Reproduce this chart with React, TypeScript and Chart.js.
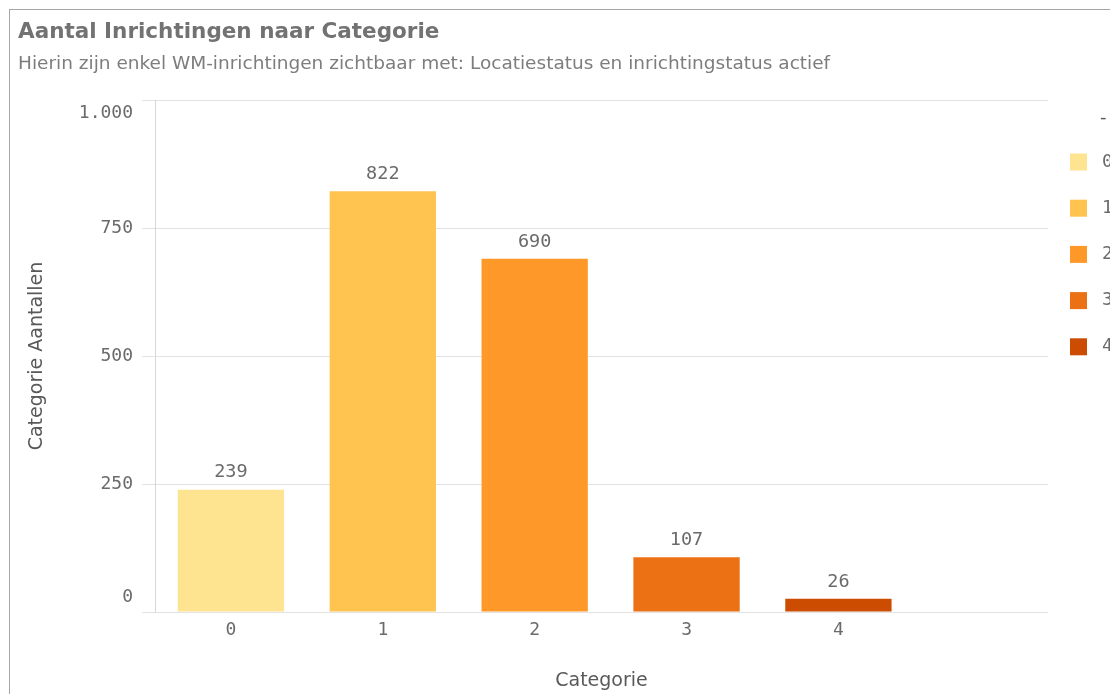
import React, { useEffect, useRef } from 'react';
import { Chart, registerables } from 'chart.js';

Chart.register(...registerables);

const categories = ['0', '1', '2', '3', '4'];
const counts = [239, 822, 690, 107, 26];
const barColors = ['#FEE391', '#FEC44F', '#FE9929', '#EC7014', '#CC4C02'];
const yTickValues = [0, 250, 500, 750, 1000];
const titleText = 'Aantal Inrichtingen naar Categorie';
const subtitleText = 'Hierin zijn enkel WM-inrichtingen zichtbaar met: Locatiestatus en inrichtingstatus actief';
const xTitleText = 'Categorie';
const yTitleText = 'Categorie Aantallen';
const legendTitleText = '-';

const MONO = '"DejaVu Sans Mono", "Liberation Mono", monospace';
const SANS = '"DejaVu Sans", "Noto Sans", sans-serif';

const fmt = (v: number) => String(v).replace(/\B(?=(\d{3})+(?!\d))/g, '.');

const clampYLabels = {
  id: 'clampYLabels',
  beforeDraw(chart: any) {
    const s = chart.scales.y;
    const items = s.getLabelItems(chart.chartArea);
    if (!items || !items.length) return;
    items[0].options.translation[1] -= 15;
    items[items.length - 1].options.translation[1] += 13;
  },
};

const valueLabels = {
  id: 'valueLabels',
  afterDatasetsDraw(chart: any) {
    const meta = chart.getDatasetMeta(0);
    const ctx = chart.ctx;
    ctx.save();
    ctx.font = `18.5px ${MONO}`;
    ctx.fillStyle = '#6a6a6a';
    ctx.textAlign = 'center';
    ctx.textBaseline = 'middle';
    meta.data.forEach((el: any, i: number) => {
      ctx.fillText(String(counts[i]), el.x, el.y - 17);
    });
    ctx.restore();
  },
};

const sideLegend = {
  id: 'sideLegend',
  afterDraw(chart: any) {
    const ctx = chart.ctx;
    const x0 = chart.chartArea.right + 22;
    ctx.save();
    ctx.textBaseline = 'middle';
    ctx.textAlign = 'left';
    ctx.fillStyle = '#595959';
    ctx.font = `18px ${SANS}`;
    ctx.fillText(legendTitleText, x0 + 30, 108);
    ctx.font = `18px ${MONO}`;
    categories.forEach((c, i) => {
      const cy = 152 + i * 46.2;
      ctx.fillStyle = barColors[i];
      ctx.fillRect(x0, cy - 8.5, 17, 17);
      ctx.fillStyle = '#6a6a6a';
      ctx.fillText(c, x0 + 32, cy);
    });
    ctx.restore();
  },
};

export default function App() {
  const ref = useRef<HTMLCanvasElement>(null);

  useEffect(() => {
    if (!ref.current) return;
    const chart = new Chart(ref.current, {
      type: 'bar',
      data: {
        datasets: [
          {
            label: yTitleText,
            data: counts.map((v, i) => ({ x: i, y: v })),
            backgroundColor: barColors,
            borderWidth: 0,
            barPercentage: 0.7,
            categoryPercentage: 1,
          },
        ],
      },
      options: {
        responsive: false,
        animation: false,
        devicePixelRatio: 1,
        layout: { padding: { left: 8, right: 62, top: 0, bottom: 0 } },
        plugins: {
          legend: { display: false },
          tooltip: { enabled: false },
          title: {
            display: true,
            text: titleText,
            align: 'start',
            color: '#727272',
            font: { family: SANS, size: 21.5, weight: 'bold' },
            padding: { top: 9.1, bottom: 0 },
          },
          subtitle: {
            display: true,
            text: subtitleText,
            align: 'start',
            color: '#7d7d7d',
            font: { family: SANS, size: 18.5 },
            padding: { top: 8, bottom: 24.9 },
          },
        },
        scales: {
          x: {
            type: 'linear',
            min: -0.5,
            max: 5.38,
            offset: false,
            afterBuildTicks: (axis: any) => {
              axis.ticks = categories.map((_, i) => ({ value: i }));
            },
            afterFit: (axis: any) => {
              axis.height = 82;
            },
            grid: { display: false, drawTicks: false, tickLength: 0 },
            border: { display: false },
            ticks: {
              autoSkip: false,
              maxRotation: 0,
              padding: 8,
              color: '#6a6a6a',
              font: { family: MONO, size: 18 },
              callback: (v: any) => categories[Math.round(Number(v))] ?? '',
            },
            title: {
              display: true,
              text: xTitleText,
              color: '#595959',
              font: { family: SANS, size: 19 },
              padding: { top: 0, bottom: 1.6 },
            },
          },
          y: {
            type: 'linear',
            min: 0,
            max: 1000,
            afterBuildTicks: (axis: any) => {
              axis.ticks = yTickValues.map((v) => ({ value: v }));
            },
            afterFit: (axis: any) => {
              axis.width = 137;
            },
            grid: { color: '#e2e2e2', tickLength: 13, lineWidth: 1 },
            border: { display: true, color: '#d6d6d6' },
            ticks: {
              padding: 9,
              color: '#6a6a6a',
              font: { family: MONO, size: 18 },
              callback: (v: any) => fmt(Number(v)),
            },
            title: {
              display: true,
              text: yTitleText,
              color: '#595959',
              font: { family: SANS, size: 19 },
              padding: { top: 7.6, bottom: 0 },
            },
          },
        },
      },
      plugins: [clampYLabels, valueLabels, sideLegend],
    } as any);
    return () => chart.destroy();
  }, []);

  return (
    <div
      style={{
        position: 'fixed',
        left: 0,
        top: 0,
        width: 1110,
        height: 694,
        overflow: 'hidden',
        background: '#ffffff',
      }}
    >
      <div
        style={{
          position: 'absolute',
          left: 9,
          top: 9,
          width: 1200,
          height: 800,
          borderLeft: '1px solid #a6a6a6',
          borderTop: '1px solid #a6a6a6',
        }}
      />
      <canvas
        ref={ref}
        width={1100}
        height={684}
        style={{ position: 'absolute', left: 10, top: 10, width: 1100, height: 684 }}
      />
    </div>
  );
}
